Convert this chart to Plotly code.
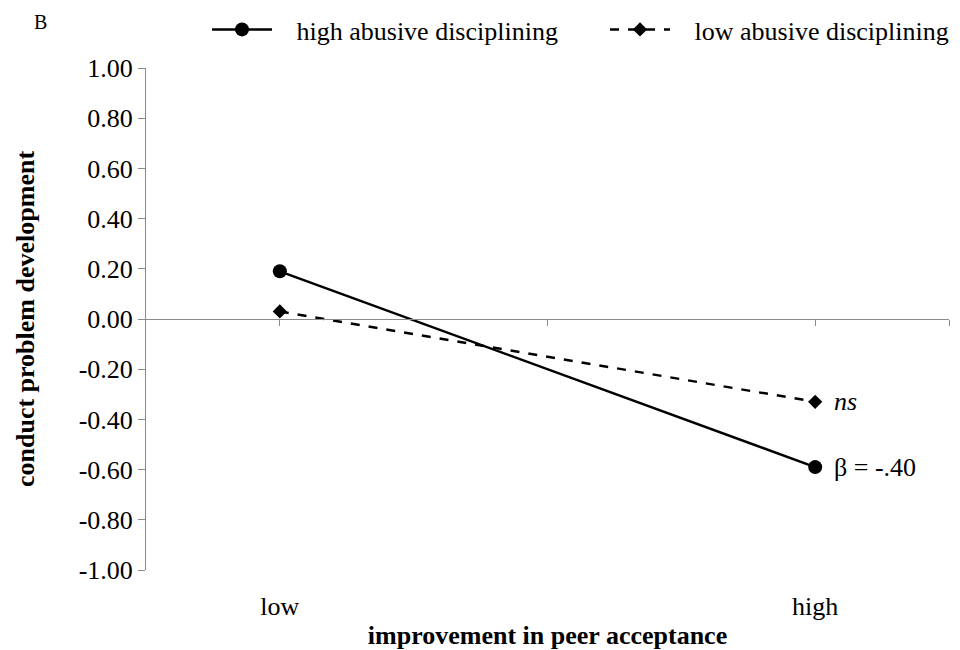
import plotly.graph_objects as go

# Simple-slope values for conduct problem development
peer_levels = ["low", "high"]
axis_slots = ["low", " ", "high"]
high_abuse = [0.19, -0.59]
low_abuse = [0.03, -0.33]
series_names = ["high abusive disciplining", "low abusive disciplining"]
slope_labels = ["β = -.40", "<i>ns</i>"]
y_ticks = [1.0, 0.8, 0.6, 0.4, 0.2, 0.0, -0.2, -0.4, -0.6, -0.8, -1.0]

FONT = "Liberation Serif"
FS = 26
AXIS_GREY = "#8a8a8a"
PAD = "\u00a0" * 3  # gap between legend symbol and its text

fig = go.Figure()

fig.add_trace(go.Scatter(
    x=peer_levels, y=high_abuse, name=PAD + series_names[0],
    mode="lines+markers", legend="legend",
    line=dict(color="black", width=2.5),
    marker=dict(symbol="circle", size=14, color="black"),
))
fig.add_trace(go.Scatter(
    x=peer_levels, y=low_abuse, name=PAD + series_names[1],
    mode="lines+markers", legend="legend2",
    line=dict(color="black", width=2.5, dash="dash"),
    marker=dict(symbol="diamond", size=11, color="black"),
))
# carrier for the bottom category labels
fig.add_trace(go.Scatter(
    x=peer_levels, y=low_abuse, xaxis="x2", mode="markers",
    marker=dict(opacity=0), showlegend=False, hoverinfo="skip",
))

# slope annotations beside the "high" points
fig.add_annotation(x=peer_levels[1], y=high_abuse[1], text=slope_labels[0],
                   showarrow=False, xanchor="left", xshift=17,
                   font=dict(family=FONT, size=FS, color="black"))
fig.add_annotation(x=peer_levels[1], y=low_abuse[1], text=slope_labels[1],
                   showarrow=False, xanchor="left", xshift=17,
                   font=dict(family=FONT, size=FS, color="black"))

# panel letter
fig.add_annotation(xref="x domain", yref="y domain", x=-0.132, y=1.092,
                   xanchor="center", yanchor="middle", text="B",
                   showarrow=False,
                   font=dict(family=FONT, size=20, color="black"))

legend_style = dict(
    orientation="h", xref="container", yref="container",
    xanchor="left", y=1.0 - 6 / 650, yanchor="top",
    font=dict(family=FONT, size=FS, color="black"),
    itemwidth=60, bgcolor="rgba(0,0,0,0)",
)

fig.update_layout(
    width=960, height=650,
    margin=dict(l=146, r=11, t=68, b=80, autoexpand=False),
    paper_bgcolor="white", plot_bgcolor="white",
    font=dict(family=FONT, size=FS, color="black"),
    showlegend=True,
    legend=dict(legend_style, x=207 / 960),
    legend2=dict(legend_style, x=605 / 960),
    xaxis=dict(
        type="category", categoryarray=axis_slots, categoryorder="array",
        range=[-0.5, 2.5],
        anchor="free", position=0.5,
        showline=True, linecolor=AXIS_GREY, linewidth=1,
        ticks="outside", ticklen=6, tickcolor=AXIS_GREY,
        tickvals=[0, 1, 2, 2.5], ticktext=["", "", "", ""],
        showticklabels=False, showgrid=False, zeroline=False,
        automargin=False,
    ),
    xaxis2=dict(
        type="category", categoryarray=axis_slots, categoryorder="array",
        range=[-0.5, 2.5], overlaying="x", anchor="y", side="bottom",
        showline=False, ticks="", showgrid=False, zeroline=False,
        tickfont=dict(family=FONT, size=FS, color="black"),
        title=dict(text="<b>improvement in peer acceptance</b>",
                   font=dict(family=FONT, size=FS, color="black"),
                   standoff=6),
        ticklabelstandoff=18, automargin=False,
    ),
    yaxis=dict(
        range=[-1, 1], tickvals=y_ticks,
        ticktext=[f"{v:.2f}" for v in y_ticks],
        showline=True, linecolor=AXIS_GREY, linewidth=1,
        ticks="outside", ticklen=7, tickcolor=AXIS_GREY,
        showgrid=False, zeroline=False,
        tickfont=dict(family=FONT, size=FS, color="black"),
        title=dict(text="<b>conduct problem development</b>",
                   font=dict(family=FONT, size=FS, color="black"),
                   standoff=36),
        automargin=False,
    ),
)

fig.write_html("out.html")
